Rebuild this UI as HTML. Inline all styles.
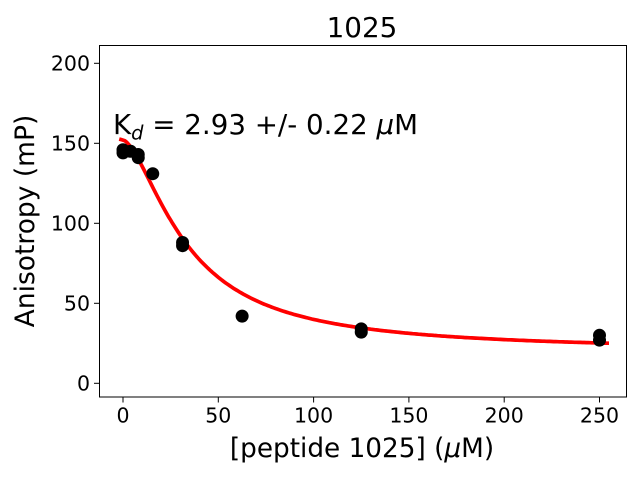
<!DOCTYPE html>
<html><head><meta charset="utf-8"><style>body{margin:0;background:#fff}svg{display:block}text{font-family:"DejaVu Sans","Liberation Sans",sans-serif}</style></head>
<body>
<svg id="s" width="640" height="480" viewBox="0 0 640 480" xmlns="http://www.w3.org/2000/svg">
<rect width="640" height="480" fill="#fff"/>
<text x="362" y="37" font-size="27.8" text-anchor="middle">1025</text>
<g font-size="20.5" text-anchor="end">
<text x="90" y="70.6">200</text><text x="90" y="150.6">150</text><text x="90" y="230.6">100</text><text x="90" y="310.6">50</text><text x="90" y="390.6">0</text>
</g>
<g stroke="#000" stroke-width="1">
<line x1="94" x2="99.5" y1="63.3" y2="63.3"/><line x1="94" x2="99.5" y1="143.3" y2="143.3"/><line x1="94" x2="99.5" y1="223.3" y2="223.3"/><line x1="94" x2="99.5" y1="303.3" y2="303.3"/><line x1="94" x2="99.5" y1="383.3" y2="383.3"/>
<line y1="397" y2="402.5" x1="123" x2="123"/><line y1="397" y2="402.5" x1="218.3" x2="218.3"/><line y1="397" y2="402.5" x1="313.6" x2="313.6"/><line y1="397" y2="402.5" x1="408.9" x2="408.9"/><line y1="397" y2="402.5" x1="504.2" x2="504.2"/><line y1="397" y2="402.5" x1="599.5" x2="599.5"/>
</g>
<g font-size="20.5" text-anchor="middle">
<text x="123" y="422.5">0</text><text x="218.3" y="422.5">50</text><text x="313.6" y="422.5">100</text><text x="408.9" y="422.5">150</text><text x="504.2" y="422.5">200</text><text x="599.5" y="422.5">250</text>
</g>
<text x="362" y="457" font-size="26.3" text-anchor="middle">[peptide 1025] (<tspan font-style="italic">μ</tspan>M)</text>
<text transform="translate(34,221) rotate(-90)" font-size="26.5" text-anchor="middle">Anisotropy (mP)</text>
<text x="113" y="134" font-size="27.7">K<tspan font-size="19.4" dy="5.5" font-style="italic">d</tspan><tspan dy="-5.5"> = 2.93 +/- 0.22 </tspan><tspan font-style="italic">μ</tspan>M</text>
<polyline id="c" fill="none" stroke="#ff0000" stroke-width="3.7" points=""/>
<g id="d" fill="#000"></g>
<rect x="99.5" y="45.5" width="527" height="351.5" fill="none" stroke="#000" stroke-width="1"/>
</svg>
<script>
var X=function(v){return 123+v*1.906},Y=function(v){return 383.3-v*1.6};
var p=[];for(var x=-2;x<=255;x+=1){var v=20+132/(1+Math.pow(Math.max(x,0)/34,1.6));if(x<0)v=152+(-x)*0.3;p.push(X(x).toFixed(1)+","+Y(v).toFixed(1));}
document.getElementById("c").setAttribute("points",p.join(" "));
var d=[[0,146],[0,144],[4,145],[8,143],[8,141],[15.6,131],[31.25,88],[31.25,86],[62.5,42],[125,34],[125,32],[250,30],[250,27]],g=document.getElementById("d"),h="";
d.forEach(function(q){h+='<circle cx="'+X(q[0])+'" cy="'+Y(q[1])+'" r="6.5"/>';});g.innerHTML=h;
</script>
</body></html>
